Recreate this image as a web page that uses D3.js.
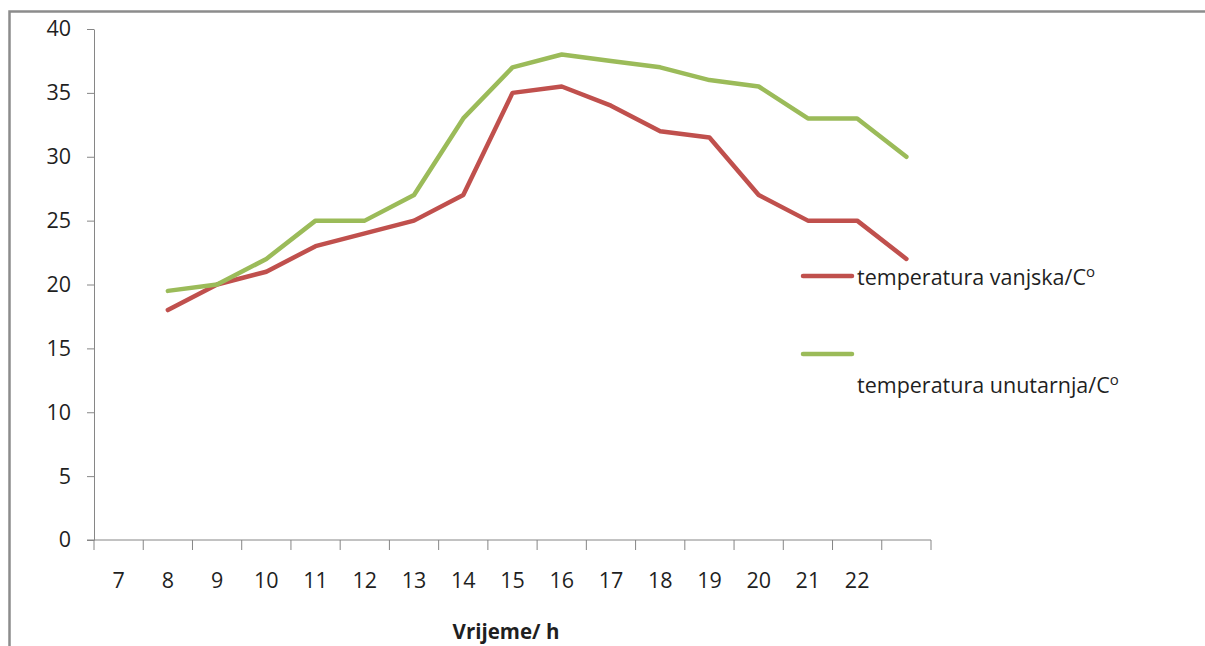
<!doctype html>
<html lang="hr">
<head>
  <meta charset="utf-8">
  <title>Temperatura</title>
  <style>
    body { margin: 0; background: #fff; }
    #chart { width: 1205px; height: 646px; }
    .axis path, .axis line { stroke: #868686; }
    .axis text { font-family: 'Open Sans', sans-serif; font-size: 21.5px; fill: #1f1f1f; }
    .legend text { font-family: 'Open Sans', sans-serif; font-size: 21.5px; fill: #1f1f1f; }
  </style>
</head>
<body>
<div id="chart"></div>

<script src="https://d3js.org/d3.v7.min.js"></script>
<script>
  // categories (last slot has no label in the original chart)
  const hours = ['7', '8', '9', '10', '11', '12', '13', '14', '15', '16', '17', '18', '19', '20', '21', '22', ''];

  // outside temperature, starts at the second slot
  const vanjska = [null, 18, 20, 21, 23, 24, 25, 27, 35, 35.5, 34, 32, 31.5, 27, 25, 25, 22];
  // inside temperature
  const unutarnja = [null, 19.5, 20, 22, 25, 25, 27, 33, 37, 38, 37.5, 37, 36, 35.5, 33, 33, 30];

  const yTicks = [0, 5, 10, 15, 20, 25, 30, 35, 40];

  const series = [
    { name: 'temperatura vanjska/C', values: vanjska, color: '#c0504d' },
    { name: 'temperatura unutarnja/C', values: unutarnja, color: '#9bbb59' }
  ];

  const width = 1205, height = 646;

  const svg = d3.select('#chart')
    .append('svg')
    .attr('width', width)
    .attr('height', height);

  // outer frame (only top and left edges are visible)
  svg.append('path')
    .attr('d', `M9.5,${height} V11.5 H${width}`)
    .attr('fill', 'none')
    .attr('stroke', '#8c8c8c')
    .attr('stroke-width', 2.5);

  const x = d3.scaleBand()
    .domain(d3.range(hours.length))
    .range([94, 931])
    .padding(0);

  const y = d3.scaleLinear()
    .domain([0, 40])
    .range([540, 29]);

  const cx = i => x(i) + x.bandwidth() / 2;

  // y axis
  svg.append('g')
    .attr('class', 'axis')
    .attr('transform', 'translate(94,0)')
    .call(d3.axisLeft(y).tickValues(yTicks).tickSize(7).tickSizeOuter(0).tickPadding(16));

  // x axis line + tick marks at the category boundaries
  const xAxis = svg.append('g').attr('class', 'axis');
  xAxis.append('line')
    .attr('x1', 87).attr('x2', 931)
    .attr('y1', y(0)).attr('y2', y(0));
  const bounds = d3.range(hours.length + 1).map(i => i < hours.length ? x(i) : x(i - 1) + x.bandwidth());
  xAxis.selectAll('line.tick')
    .data(bounds)
    .join('line')
    .attr('class', 'tick')
    .attr('x1', d => d).attr('x2', d => d)
    .attr('y1', y(0)).attr('y2', y(0) + 10);
  xAxis.selectAll('text')
    .data(hours)
    .join('text')
    .attr('x', (d, i) => cx(i))
    .attr('y', 588)
    .attr('text-anchor', 'middle')
    .text(d => d);

  // x axis title
  svg.append('text')
    .attr('x', 506)
    .attr('y', 639)
    .attr('text-anchor', 'middle')
    .style('font-family', "'Open Sans', sans-serif")
    .style('font-size', '20.5px')
    .style('font-weight', 'bold')
    .attr('fill', '#1f1f1f')
    .text('Vrijeme/ h');

  // lines
  const line = d3.line()
    .defined(d => d != null)
    .x((d, i) => cx(i))
    .y(d => y(d));

  svg.selectAll('path.series')
    .data(series)
    .join('path')
    .attr('class', 'series')
    .attr('fill', 'none')
    .attr('stroke', d => d.color)
    .attr('stroke-width', 4.5)
    .attr('stroke-linejoin', 'round')
    .attr('stroke-linecap', 'round')
    .attr('d', d => line(d.values));

  // legend
  const legendItems = [
    { lineY: 276, textY: 285 },
    { lineY: 354, textY: 393 }
  ];
  const legend = svg.append('g').attr('class', 'legend');
  series.forEach((s, k) => {
    const g = legend.append('g');
    g.append('line')
      .attr('x1', 803).attr('x2', 852)
      .attr('y1', legendItems[k].lineY).attr('y2', legendItems[k].lineY)
      .attr('stroke', s.color)
      .attr('stroke-width', 4.5)
      .attr('stroke-linecap', 'round');
    const t = g.append('text')
      .attr('x', 857)
      .attr('y', legendItems[k].textY)
      .text(s.name);
    t.append('tspan')
      .attr('dy', -8)
      .style('font-size', '15px')
      .text('o');
  });
</script>
</body>
</html>
